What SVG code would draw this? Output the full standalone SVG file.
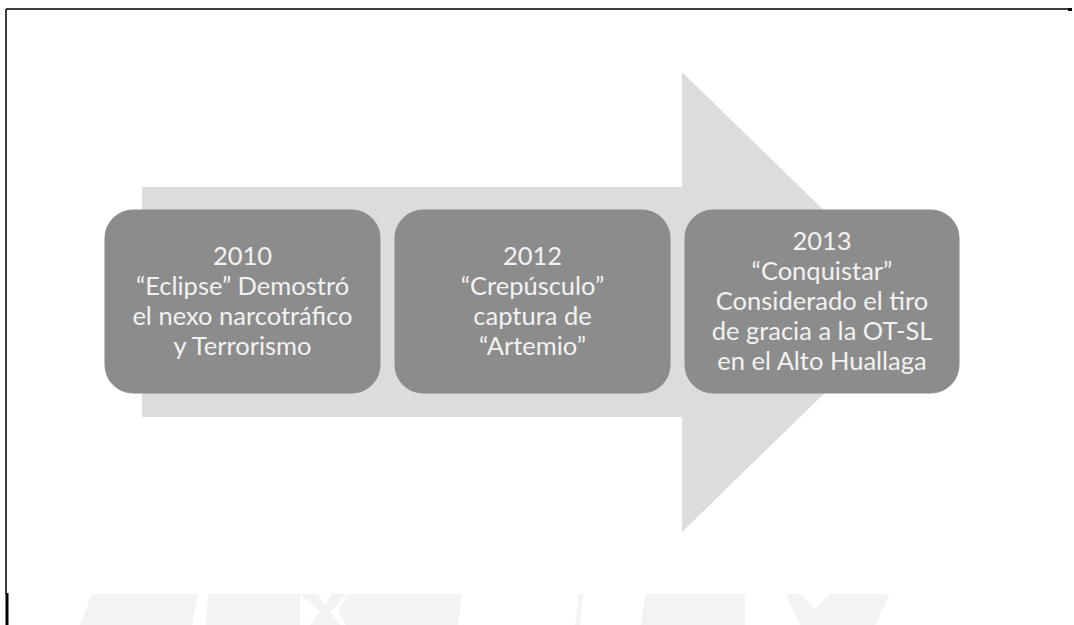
<svg xmlns="http://www.w3.org/2000/svg" width="1074" height="625" viewBox="0 0 1074 625">
  <style>
    .box { fill: #8c8c8c; stroke: #8a8a8a; stroke-width: 1; }
    .lbl { font-family: Lato, "Open Sans", "Liberation Sans", sans-serif; font-size: 25.5px; fill: #f2f2f2; text-anchor: middle; }
    .wm { fill: #f3f3f3; }
  </style>
  <rect x="0" y="0" width="1074" height="625" fill="#ffffff"/>
  <!-- page border fragments -->
  <g id="border" stroke="#000000" fill="none">
    <line x1="6" y1="9" x2="1068" y2="9" stroke-width="1.5"/>
    <line x1="1068" y1="9.5" x2="1072" y2="9.5" stroke-width="3"/>
    <line x1="6" y1="9" x2="6" y2="594" stroke-width="1.5"/>
    <line x1="7" y1="593" x2="7" y2="625" stroke-width="3"/>
  </g>
  <!-- faint watermark -->
  <g id="watermark">
    <polygon class="wm" points="80,625 92,594 198,594 192,625"/>
    <polygon class="wm" points="206,625 208,594 300,594 300,625"/>
    <polygon class="wm" points="300,594 318,594 325,605 332,594 346,594 330,612 340,625 310,625 320,612"/>
    <polygon class="wm" points="348,594 462,594 458,625 346,625 338,612"/>
    <polygon class="wm" points="575,625 579,594 583,594 580,625"/>
    <polygon class="wm" points="641,625 645,594 745,594 745,625"/>
    <polygon class="wm" points="786,594 800,594 815,610 830,594 890,594 875,625 800,625"/>
  </g>
  <!-- big arrow -->
  <g id="connectors">
    <polygon points="142,187 682,187 682,72 918,302 682,532 682,417 142,417" fill="#dcdcdc"/>
  </g>
  <g id="node1">
    <rect class="box" x="105" y="210" width="275" height="183" rx="28" ry="28"/>
    <text class="lbl" x="242.5" y="265">2010</text>
    <text class="lbl" x="242.5" y="295">“Eclipse” Demostró</text>
    <text class="lbl" x="242.5" y="325">el nexo narcotráfico</text>
    <text class="lbl" x="242.5" y="355">y Terrorismo</text>
  </g>
  <g id="node2">
    <rect class="box" x="395" y="210" width="275" height="183" rx="28" ry="28"/>
    <text class="lbl" x="532.5" y="265">2012</text>
    <text class="lbl" x="532.5" y="295">“Crepúsculo”</text>
    <text class="lbl" x="532.5" y="325">captura de</text>
    <text class="lbl" x="532.5" y="355">“Artemio”</text>
  </g>
  <g id="node3">
    <rect class="box" x="685" y="210" width="274" height="183" rx="28" ry="28"/>
    <text class="lbl" x="822" y="250">2013</text>
    <text class="lbl" x="822" y="280">“Conquistar”</text>
    <text class="lbl" x="822" y="310">Considerado el tiro</text>
    <text class="lbl" x="822" y="340">de gracia a la OT-SL</text>
    <text class="lbl" x="822" y="370">en el Alto Huallaga</text>
  </g>
</svg>
